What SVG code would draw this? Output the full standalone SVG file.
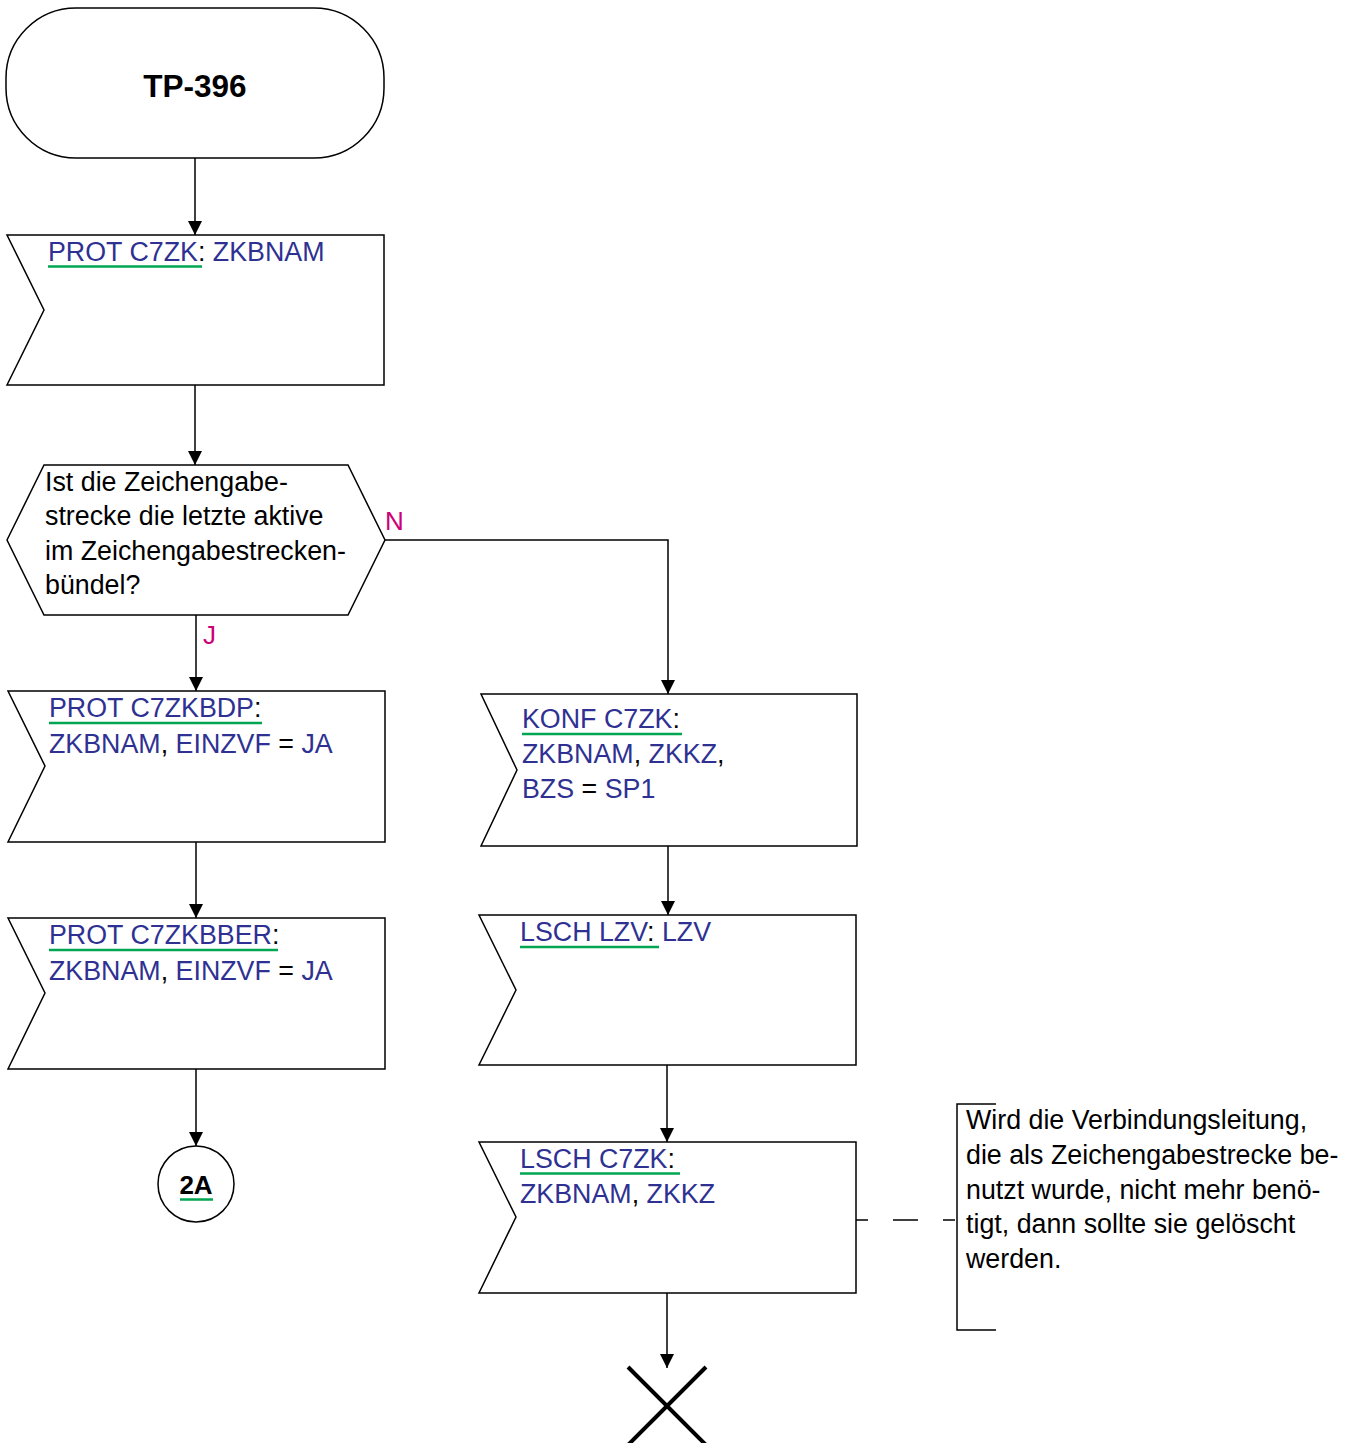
<svg xmlns="http://www.w3.org/2000/svg" width="1354" height="1443" viewBox="0 0 1354 1443">
  <style>
    .shape { fill: #ffffff; stroke: #000000; stroke-width: 1.5; }
    .wire { fill: none; stroke: #000000; stroke-width: 1.5; }
    .t { font-family: "Liberation Sans", Arial, sans-serif; font-size: 26.8px; fill: #000000; }
    .b { fill: #2e3192; }
    .k { fill: #000000; }
    .lbl { font-family: "Liberation Sans", Arial, sans-serif; font-size: 26px; fill: #cc0077; }
    .ul { stroke: #00a651; stroke-width: 2.5; }
  </style>
  <defs>
    <marker id="arrow" markerWidth="14" markerHeight="14" refX="14" refY="7" orient="auto" markerUnits="userSpaceOnUse">
      <path d="M0,0 L14,7 L0,14 Z" fill="#000000"/>
    </marker>
  </defs>
  <rect width="1354" height="1443" fill="#ffffff"/>

  <!-- connectors -->
  <g id="connectors">
    <line class="wire" x1="195" y1="158" x2="195" y2="235" marker-end="url(#arrow)"/>
    <line class="wire" x1="195" y1="385" x2="195" y2="465" marker-end="url(#arrow)"/>
    <line class="wire" x1="196" y1="615" x2="196" y2="691" marker-end="url(#arrow)"/>
    <polyline class="wire" points="385,540 668,540 668,694" marker-end="url(#arrow)"/>
    <line class="wire" x1="196" y1="842" x2="196" y2="918" marker-end="url(#arrow)"/>
    <line class="wire" x1="196" y1="1069" x2="196" y2="1146" marker-end="url(#arrow)"/>
    <line class="wire" x1="668" y1="846" x2="668" y2="915" marker-end="url(#arrow)"/>
    <line class="wire" x1="667" y1="1065" x2="667" y2="1142" marker-end="url(#arrow)"/>
    <line class="wire" x1="667" y1="1293" x2="667" y2="1368" marker-end="url(#arrow)"/>
    <line class="wire" x1="856" y1="1220" x2="955" y2="1220" stroke-dasharray="25 25" stroke-dashoffset="13"/>
    <text class="lbl" x="385" y="530">N</text>
    <text class="lbl" x="203" y="644">J</text>
  </g>

  <!-- start terminator -->
  <g id="start">
    <rect class="shape" x="6" y="8" width="378" height="150" rx="70" ry="70"/>
    <text x="195" y="97" text-anchor="middle" font-family="Liberation Sans, Arial, sans-serif" font-size="31.5" font-weight="bold">TP-396</text>
  </g>

  <!-- PROT C7ZK -->
  <g id="prot-c7zk">
    <polygon class="shape" points="7,235 384,235 384,385 7,385 44,310"/>
    <text class="t" x="48" y="261"><tspan class="b">PROT C7ZK</tspan><tspan class="k">: </tspan><tspan class="b">ZKBNAM</tspan></text>
    <line class="ul" x1="48" y1="266.5" x2="202" y2="266.5"/>
  </g>

  <!-- decision -->
  <g id="decision">
    <polygon class="shape" points="7,540 44,465 348,465 385,540 348,615 44,615"/>
    <text class="t" x="45" y="491">Ist die Zeichengabe-</text>
    <text class="t" x="45" y="525">strecke die letzte aktive</text>
    <text class="t" x="45" y="560">im Zeichengabestrecken-</text>
    <text class="t" x="45" y="594">bündel?</text>
  </g>

  <!-- PROT C7ZKBDP -->
  <g id="prot-c7zkbdp">
    <polygon class="shape" points="8,691 385,691 385,842 8,842 45,766"/>
    <text class="t" x="49" y="717"><tspan class="b">PROT C7ZKBDP</tspan><tspan class="k">:</tspan></text>
    <line class="ul" x1="49" y1="723" x2="262" y2="723"/>
    <text class="t" x="49" y="753"><tspan class="b">ZKBNAM</tspan><tspan class="k">, </tspan><tspan class="b">EINZVF</tspan><tspan class="k"> = </tspan><tspan class="b">JA</tspan></text>
  </g>

  <!-- PROT C7ZKBBER -->
  <g id="prot-c7zkbber">
    <polygon class="shape" points="8,918 385,918 385,1069 8,1069 45,993"/>
    <text class="t" x="49" y="944"><tspan class="b">PROT C7ZKBBER</tspan><tspan class="k">:</tspan></text>
    <line class="ul" x1="49" y1="950" x2="278" y2="950"/>
    <text class="t" x="49" y="980"><tspan class="b">ZKBNAM</tspan><tspan class="k">, </tspan><tspan class="b">EINZVF</tspan><tspan class="k"> = </tspan><tspan class="b">JA</tspan></text>
  </g>

  <!-- connector 2A -->
  <g id="connector-2a">
    <circle class="shape" cx="196" cy="1184" r="38"/>
    <text x="196" y="1194" text-anchor="middle" font-family="Liberation Sans, Arial, sans-serif" font-size="26" font-weight="bold">2A</text>
    <line class="ul" x1="180" y1="1199.5" x2="213" y2="1199.5"/>
  </g>

  <!-- KONF C7ZK -->
  <g id="konf-c7zk">
    <polygon class="shape" points="481,694 857,694 857,846 481,846 517,770"/>
    <text class="t" x="522" y="728"><tspan class="b">KONF C7ZK</tspan><tspan class="k">:</tspan></text>
    <line class="ul" x1="522" y1="734" x2="682" y2="734"/>
    <text class="t" x="522" y="763"><tspan class="b">ZKBNAM</tspan><tspan class="k">, </tspan><tspan class="b">ZKKZ</tspan><tspan class="k">,</tspan></text>
    <text class="t" x="522" y="798"><tspan class="b">BZS</tspan><tspan class="k"> = </tspan><tspan class="b">SP1</tspan></text>
  </g>

  <!-- LSCH LZV -->
  <g id="lsch-lzv">
    <polygon class="shape" points="479,915 856,915 856,1065 479,1065 516,990"/>
    <text class="t" x="520" y="941"><tspan class="b">LSCH LZV</tspan><tspan class="k">: </tspan><tspan class="b">LZV</tspan></text>
    <line class="ul" x1="520" y1="947" x2="659" y2="947"/>
  </g>

  <!-- LSCH C7ZK -->
  <g id="lsch-c7zk">
    <polygon class="shape" points="479,1142 856,1142 856,1293 479,1293 516,1217"/>
    <text class="t" x="520" y="1168"><tspan class="b">LSCH C7ZK</tspan><tspan class="k">:</tspan></text>
    <line class="ul" x1="520" y1="1173.5" x2="680" y2="1173.5"/>
    <text class="t" x="520" y="1203"><tspan class="b">ZKBNAM</tspan><tspan class="k">, </tspan><tspan class="b">ZKKZ</tspan></text>
  </g>

  <!-- comment bracket -->
  <g id="comment">
    <polyline class="wire" points="996,1104 957,1104 957,1330 996,1330"/>
    <text class="t" x="966" y="1129">Wird die Verbindungsleitung,</text>
    <text class="t" x="966" y="1164">die als Zeichengabestrecke be-</text>
    <text class="t" x="966" y="1199">nutzt wurde, nicht mehr benö-</text>
    <text class="t" x="966" y="1233">tigt, dann sollte sie gelöscht</text>
    <text class="t" x="966" y="1268">werden.</text>
  </g>

  <!-- stop -->
  <g id="stop">
    <line x1="628" y1="1367" x2="706" y2="1445" stroke="#000000" stroke-width="4"/>
    <line x1="706" y1="1367" x2="628" y2="1445" stroke="#000000" stroke-width="4"/>
  </g>
</svg>
